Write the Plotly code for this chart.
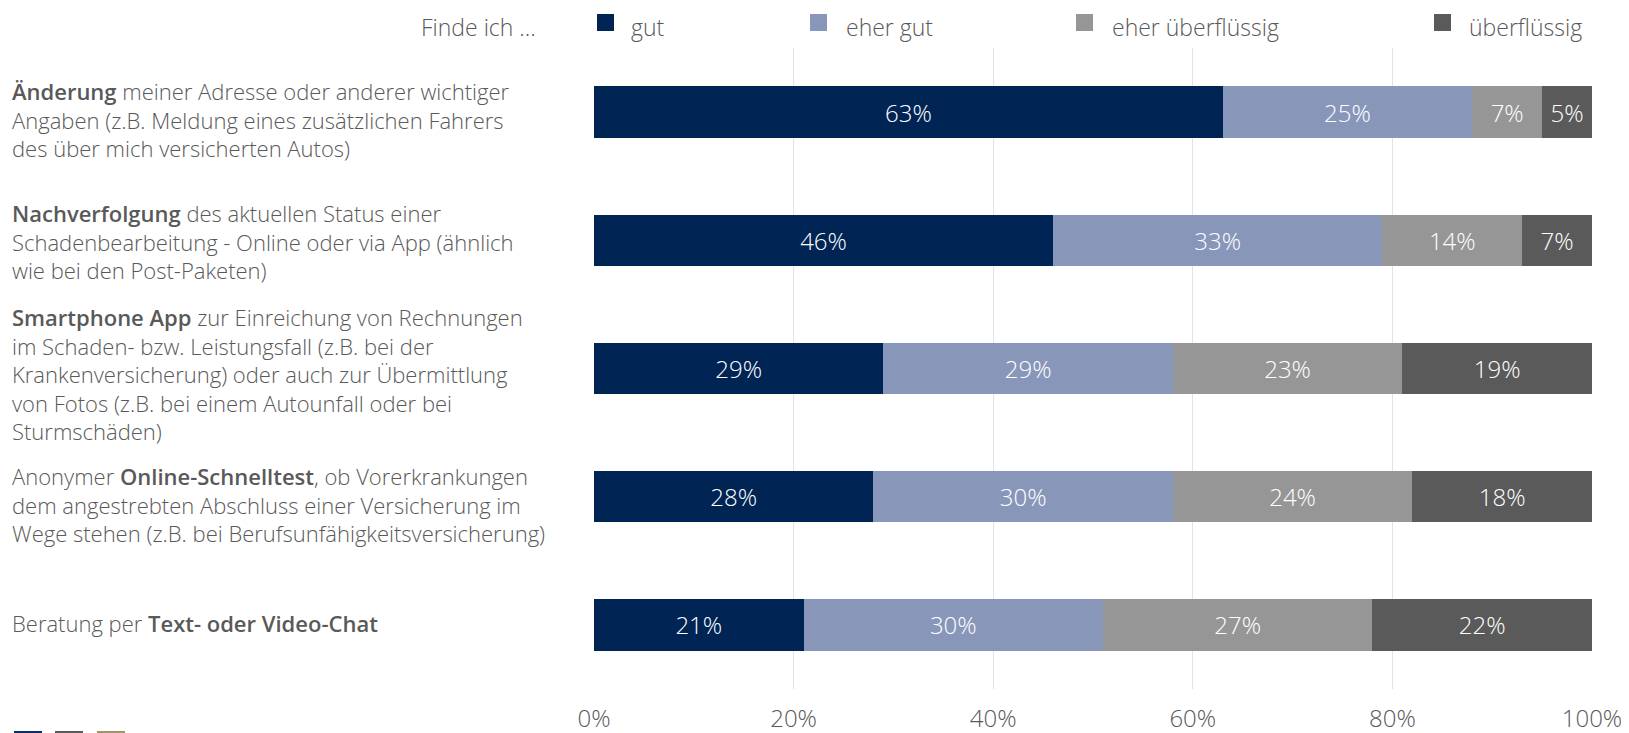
import plotly.graph_objects as go

B1 = '<span style="font-weight:600">'
B0 = "</span>"
categories = [
    f"{B1}Änderung{B0} meiner Adresse oder anderer wichtiger<br>Angaben (z.B. Meldung eines zusätzlichen Fahrers<br>des über mich versicherten Autos)",
    f"{B1}Nachverfolgung{B0} des aktuellen Status einer<br>Schadenbearbeitung - Online oder via App (ähnlich<br>wie bei den Post-Paketen)",
    f"{B1}Smartphone App{B0} zur Einreichung von Rechnungen<br>im Schaden- bzw. Leistungsfall (z.B. bei der<br>Krankenversicherung) oder auch zur Übermittlung<br>von Fotos (z.B. bei einem Autounfall oder bei<br>Sturmschäden)",
    f"Anonymer {B1}Online-Schnelltest{B0}, ob Vorerkrankungen<br>dem angestrebten Abschluss einer Versicherung im<br>Wege stehen (z.B. bei Berufsunfähigkeitsversicherung)",
    f"Beratung per {B1}Text- oder Video-Chat{B0}",
]
row_ids = ["r1", "r2", "r3", "r4", "r5"]

series_names = ["gut", "eher gut", "eher überflüssig", "überflüssig"]
gut = [63, 46, 29, 28, 21]
eher_gut = [25, 33, 29, 30, 30]
eher_ueberfluessig = [7, 14, 23, 24, 27]
ueberfluessig = [5, 7, 19, 18, 22]
series_values = [gut, eher_gut, eher_ueberfluessig, ueberfluessig]
colors = ["#002454", "#8896b9", "#969696", "#5a5a5a"]

tick_vals = [0, 20, 40, 60, 80, 100]
tick_text = ["0%", "20%", "40%", "60%", "80%", "100%"]

# vertical nudges (px) of the row labels relative to their bar
label_shift = [-7, -1, -5, -8, 2]

# page body has an 8px margin: size the figure so it fits the 1629x733 window
OFF = 8
W, H = 1629 - OFF, 733 - OFF
L, T = 586, 40
PW, PH = 998, 641
R, B = W - L - PW, H - T - PH


def pxp(page_x):
    return (page_x - OFF - L) / PW


def pyp(page_y):
    return (H - B - (page_y - OFF)) / PH


FONT = "Open Sans, Liberation Sans, Arial, sans-serif"
TXT = "#595959"

fig = go.Figure()
for name, vals, col in zip(series_names, series_values, colors):
    fig.add_trace(go.Bar(
        y=row_ids, x=vals, name=name, orientation="h",
        marker=dict(color=col, line=dict(width=0)),
        text=[f"{v}%" for v in vals], textposition="inside",
        insidetextanchor="middle", textangle=0, constraintext="none",
        textfont=dict(color="white", size=24, family=FONT, weight=300),
        showlegend=False, hoverinfo="skip",
    ))

annotations = []
for rid, lab, ys in zip(row_ids, categories, label_shift):
    annotations.append(dict(
        x=pxp(10), xref="paper", y=rid, yref="y", text=lab, showarrow=False,
        xanchor="left", yanchor="middle", align="left", yshift=ys,
        font=dict(size=22, color=TXT, family=FONT, weight=300),
    ))

# legend (manual), kept just inside the top edge of the figure
LEG_TOP = pyp(OFF + 0.5)
annotations.append(dict(
    x=pxp(538), xref="paper", y=LEG_TOP, yref="paper", text="Finde ich …",
    showarrow=False, xanchor="right", yanchor="top",
    font=dict(size=23, color=TXT, family=FONT, weight=300),
))
shapes = []
marker_x = [597, 810, 1076, 1434]
text_x = [629, 844, 1110, 1467]
for name, col, mx, tx in zip(series_names, colors, marker_x, text_x):
    shapes.append(dict(type="rect", xref="paper", yref="paper",
                       x0=pxp(mx), x1=pxp(mx + 17), y0=pyp(14), y1=pyp(31),
                       fillcolor=col, line=dict(width=0)))
    annotations.append(dict(
        x=pxp(tx), xref="paper", y=LEG_TOP, yref="paper", text=name,
        showarrow=False, xanchor="left", yanchor="top",
        font=dict(size=23, color=TXT, family=FONT, weight=300),
    ))

# logo squares partially visible at bottom left
for x0, col in zip([14, 55, 97], ["#0b2c6b", "#5a5a5a", "#a2946a"]):
    shapes.append(dict(type="rect", xref="paper", yref="paper",
                       x0=pxp(x0), x1=pxp(x0 + 28), y0=pyp(760), y1=pyp(731),
                       fillcolor=col, line=dict(width=0)))

fig.update_layout(
    width=W, height=H, barmode="stack", bargap=0.6,
    margin=dict(l=L, r=R, t=T, b=B, pad=0, autoexpand=False),
    plot_bgcolor="white", paper_bgcolor="white",
    font=dict(family=FONT, color=TXT),
    annotations=annotations, shapes=shapes,
    xaxis=dict(range=[0, 100], tickvals=tick_vals, ticktext=tick_text,
               showgrid=True, gridcolor="#e3e3e3", gridwidth=1,
               zeroline=False, showline=False, automargin=False,
               ticks="outside", ticklen=8, tickcolor="rgba(0,0,0,0)",
               tickfont=dict(size=24, color=TXT, family=FONT, weight=300),
               fixedrange=True),
    yaxis=dict(categoryorder="array", categoryarray=row_ids, autorange="reversed",
               showticklabels=False, showgrid=False, zeroline=False,
               automargin=False, fixedrange=True),
)

fig.write_html("out.html")
